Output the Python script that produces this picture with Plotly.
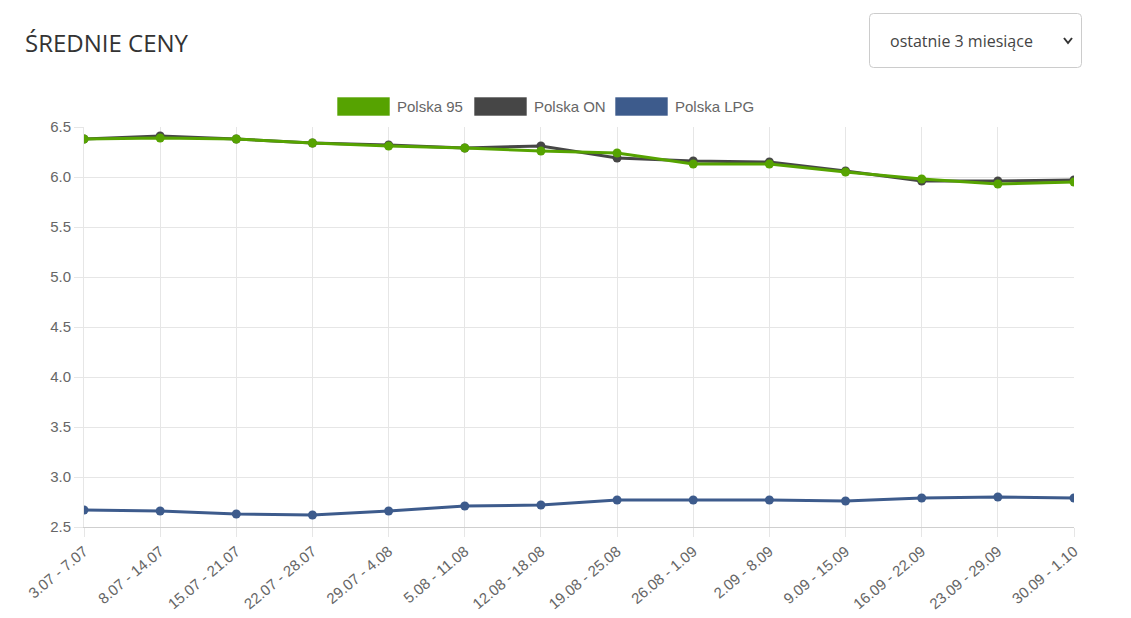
import plotly.graph_objects as go

categories = ["3.07 - 7.07", "8.07 - 14.07", "15.07 - 21.07", "22.07 - 28.07", "29.07 - 4.08",
              "5.08 - 11.08", "12.08 - 18.08", "19.08 - 25.08", "26.08 - 1.09", "2.09 - 8.09",
              "9.09 - 15.09", "16.09 - 22.09", "23.09 - 29.09", "30.09 - 1.10"]
polska_95 = [6.38, 6.39, 6.38, 6.34, 6.31, 6.29, 6.26, 6.24, 6.13, 6.13, 6.05, 5.98, 5.93, 5.95]
polska_on = [6.38, 6.41, 6.38, 6.34, 6.32, 6.29, 6.31, 6.19, 6.16, 6.15, 6.06, 5.96, 5.96, 5.97]
polska_lpg = [2.67, 2.66, 2.63, 2.62, 2.66, 2.71, 2.72, 2.77, 2.77, 2.77, 2.76, 2.79, 2.80, 2.79]

series = [("Polska LPG", polska_lpg, "#3d5b8c"),
          ("Polska ON", polska_on, "#464646"),
          ("Polska 95", polska_95, "#56a301")]

fig = go.Figure()
for name, vals, col in series:
    fig.add_trace(go.Scatter(x=categories, y=vals, name=name, mode="lines+markers",
                             line=dict(color=col, width=3),
                             marker=dict(color=col, size=9),
                             showlegend=False))

# page offset (body margin) and plot-area placement in page pixels
OFF = 8
W, H = 1131 - OFF, 618 - OFF
PX0, PX1, PY0, PY1 = 84, 1074, 127, 527
L, R, T, B = PX0 - OFF, 1131 - PX1, PY0 - OFF, 618 - PY1


def px(x):
    return (x - PX0) / (PX1 - PX0)


def py(y):
    return (PY1 - y) / (PY1 - PY0)


shapes = []
annotations = []

# Legend (Chart.js style boxes)
legend_items = [("Polska 95", "#56a301", 337), ("Polska ON", "#464646", 474), ("Polska LPG", "#3d5b8c", 615)]
for name, col, x0 in legend_items:
    shapes.append(dict(type="rect", xref="paper", yref="paper",
                       x0=px(x0), x1=px(x0 + 53), y0=py(116), y1=py(97),
                       fillcolor=col, line=dict(color="rgba(255,255,255,0.6)", width=1), layer="above"))
    annotations.append(dict(text=name, xref="paper", yref="paper", x=px(x0 + 58), y=py(106),
                            xanchor="left", yanchor="middle", showarrow=False,
                            font=dict(family="Liberation Sans, Arial", size=15, color="#666666")))

# Title
annotations.append(dict(text="ŚREDNIE CENY", xref="paper", yref="paper", x=px(23), y=py(42),
                        xanchor="left", yanchor="middle", showarrow=False,
                        font=dict(family="Open Sans", size=24, color="#333333")))

# Dropdown box
x0, x1, y0, y1, r = 869.5, 1081.5, 13.5, 67.5, 4
path = (f"M {px(x0 + r)},{py(y0)} L {px(x1 - r)},{py(y0)} Q {px(x1)},{py(y0)} {px(x1)},{py(y0 + r)} "
        f"L {px(x1)},{py(y1 - r)} Q {px(x1)},{py(y1)} {px(x1 - r)},{py(y1)} "
        f"L {px(x0 + r)},{py(y1)} Q {px(x0)},{py(y1)} {px(x0)},{py(y1 - r)} "
        f"L {px(x0)},{py(y0 + r)} Q {px(x0)},{py(y0)} {px(x0 + r)},{py(y0)} Z")
shapes.append(dict(type="path", xref="paper", yref="paper", path=path,
                   fillcolor="white", line=dict(color="#cccccc", width=1)))
annotations.append(dict(text="ostatnie 3 miesiące", xref="paper", yref="paper", x=px(888), y=py(41),
                        xanchor="left", yanchor="middle", showarrow=False,
                        font=dict(family="Open Sans", size=16, color="#444444")))
chev = f"M {px(1064)},{py(38)} L {px(1068)},{py(43)} L {px(1072)},{py(38)}"
shapes.append(dict(type="path", xref="paper", yref="paper", path=chev,
                   line=dict(color="#333333", width=2)))

fig.update_layout(
    width=W, height=H,
    margin=dict(l=L, r=R, t=T, b=B, autoexpand=False),
    plot_bgcolor="white", paper_bgcolor="white",
    font=dict(family="Liberation Sans, Arial", size=15, color="#666666"),
    shapes=shapes, annotations=annotations,
    xaxis=dict(type="category", range=[0, len(categories) - 1], showgrid=True,
               gridcolor="#e6e6e6", gridwidth=1, tickangle=-40, ticks="outside",
               ticklen=9, tickcolor="#e6e6e6", showline=True, linecolor="#cfcfcf",
               tickfont=dict(size=15, color="#666666"), zeroline=False),
    yaxis=dict(range=[2.5, 6.5], dtick=0.5, tickformat=".1f", showgrid=True,
               gridcolor="#e6e6e6", ticks="outside", ticklen=9, tickcolor="#e6e6e6",
               showline=True, linecolor="#e6e6e6", zeroline=False,
               tickfont=dict(size=15, color="#666666")),
    hovermode="x",
)

fig.write_html("out.html")
